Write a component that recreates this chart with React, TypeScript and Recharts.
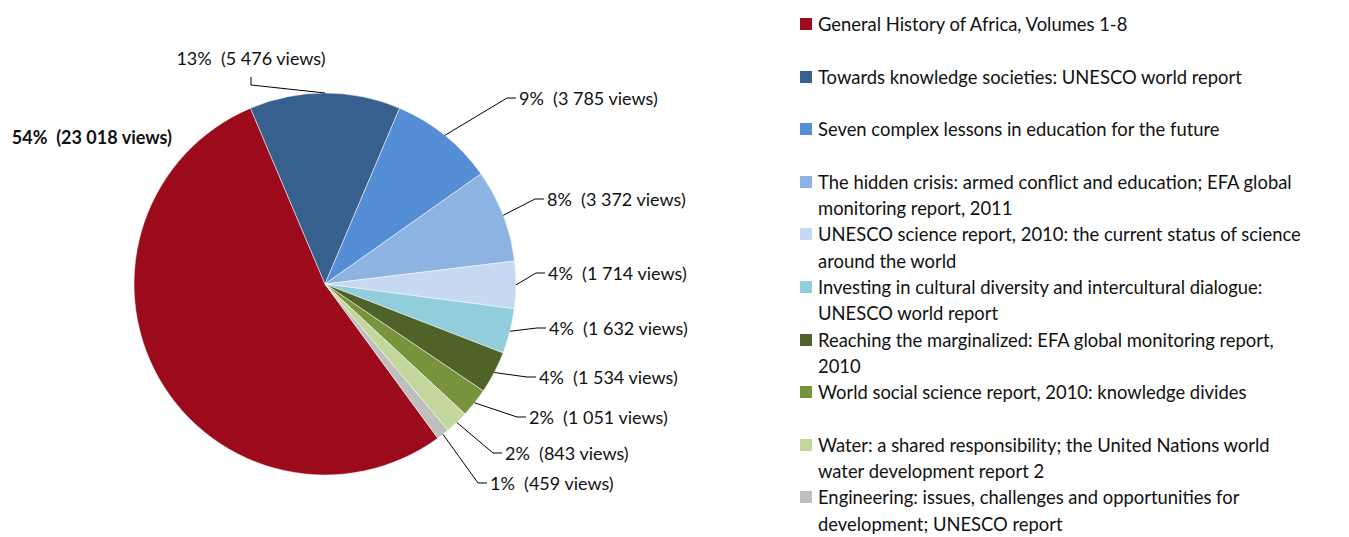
import React from "react";
import { PieChart, Pie, Cell, Legend } from "recharts";

// publication titles ("\n" marks where the legend wraps)
const TITLES = [
  "General History of Africa, Volumes 1-8",
  "Towards knowledge societies: UNESCO world report",
  "Seven complex lessons in education for the future",
  "The hidden crisis: armed conflict and education; EFA global\nmonitoring report, 2011",
  "UNESCO science report, 2010: the current status of science\naround the world",
  "Investing in cultural diversity and intercultural dialogue:\nUNESCO world report",
  "Reaching the marginalized: EFA global monitoring report,\n2010",
  "World social science report, 2010: knowledge divides",
  "Water: a shared responsibility; the United Nations world\nwater development report 2",
  "Engineering: issues, challenges and opportunities for\ndevelopment; UNESCO report",
];

const VIEWS = [23018, 5476, 3785, 3372, 1714, 1632, 1534, 1051, 843, 459];

const COLORS = [
  "#9c0b1c",
  "#37608f",
  "#558ed5",
  "#8db3e2",
  "#c6d9f1",
  "#92cddc",
  "#4f6228",
  "#77933c",
  "#c3d69b",
  "#bfbfbf",
];

// label elbow offsets from pie centre: [dx, dy, kind]
const LABEL_POS: [number, number, string][] = [
  [-153, -147, "plain"],
  [-74, -199, "top"],
  [182, -186, "right"],
  [210, -85, "right"],
  [211, -11, "right"],
  [212, 44, "right"],
  [202, 93, "right"],
  [192, 133, "right"],
  [168, 169, "right"],
  [153, 199, "right"],
];

const FONT = "Lato, 'Open Sans', sans-serif";
const RAD = Math.PI / 180;

const data = TITLES.map((t, i) => ({ name: t.replace("\n", " "), value: VIEWS[i] }));

const fmt = (n: number) => String(n).replace(/\B(?=(\d{3})+(?!\d))/g, " ");

const renderLabel = (props: any) => {
  const { cx, cy, midAngle, outerRadius, index, percent, value } = props;
  const [dx, dy, kind] = LABEL_POS[index];
  const text = `${Math.round(percent * 100)}%  (${fmt(value)} views)`;
  const sx = cx + outerRadius * Math.cos(-midAngle * RAD);
  const sy = cy + outerRadius * Math.sin(-midAngle * RAD);
  const ex = cx + dx;
  const ey = cy + dy;
  const common = { fill: "#111", fontSize: 18, fontFamily: FONT, style: { whiteSpace: "pre" as const } };
  if (kind === "plain") {
    return (
      <text x={ex} y={ey} textAnchor="end" dominantBaseline="central" fontWeight="bold" {...common}>
        {text}
      </text>
    );
  }
  if (kind === "top") {
    return (
      <g>
        <polyline points={`${sx},${sy} ${ex},${ey} ${ex},${ey - 8}`} fill="none" stroke="#000" strokeWidth={1} />
        <text x={ex} y={ey - 27} textAnchor="middle" dominantBaseline="central" {...common}>
          {text}
        </text>
      </g>
    );
  }
  return (
    <g>
      <polyline points={`${sx},${sy} ${ex},${ey} ${ex + 9},${ey}`} fill="none" stroke="#000" strokeWidth={1} />
      <text x={ex + 12} y={ey} textAnchor="start" dominantBaseline="central" {...common}>
        {text}
      </text>
    </g>
  );
};

const renderLegend = () => (
  <div style={{ fontFamily: FONT, fontSize: 18.4, color: "#111" }}>
    {TITLES.map((t, i) => (
      <div key={i} style={{ position: "relative", height: 52.6, paddingLeft: 18, lineHeight: "26.3px" }}>
        <span
          style={{
            position: "absolute",
            left: 0,
            top: 7,
            width: 12,
            height: 12,
            background: COLORS[i],
          }}
        />
        {t.split("\n").map((line, j) => (
          <div key={j} style={{ whiteSpace: "nowrap" }}>{line}</div>
        ))}
      </div>
    ))}
  </div>
);

export default function App() {
  return (
    <div style={{ position: "absolute", left: 0, top: 0, width: 1349, height: 537, background: "#fff" }}>
      <PieChart width={1349} height={537} margin={{ top: 0, right: 0, bottom: 0, left: 0 }}>
        <Pie
          data={data}
          dataKey="value"
          nameKey="name"
          cx={325}
          cy={284}
          outerRadius={191}
          startAngle={-53.8}
          endAngle={-413.8}
          stroke="#fff"
          strokeWidth={0.5}
          label={renderLabel}
          labelLine={false}
          isAnimationActive={false}
        >
          {data.map((d, i) => (
            <Cell key={d.name} fill={COLORS[i]} />
          ))}
        </Pie>
        <Legend
          content={renderLegend}
          wrapperStyle={{ position: "absolute", left: 800, top: 11, width: 549 }}
        />
      </PieChart>
    </div>
  );
}
